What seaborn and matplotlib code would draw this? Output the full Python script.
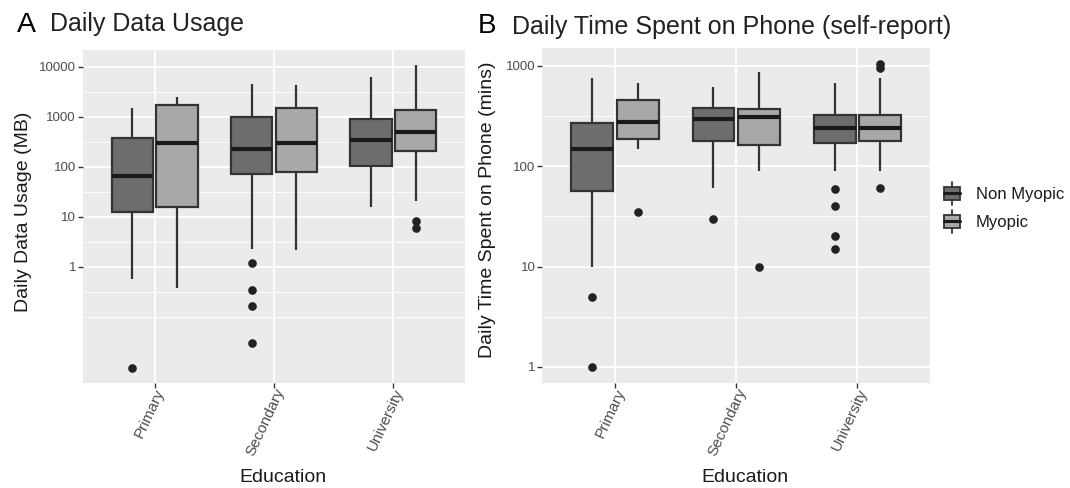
import numpy as np
import pandas as pd
import matplotlib
matplotlib.use("Agg")
import matplotlib.pyplot as plt
import seaborn as sns
from matplotlib.patches import Patch, Rectangle
from matplotlib.lines import Line2D
from matplotlib.legend_handler import HandlerBase

# ---------------- data ----------------
education = ["Primary", "Secondary", "University"]
groups = ["Non Myopic", "Myopic"]
colors = {"Non Myopic": "#6d6d6d", "Myopic": "#a8a8aa"}

# order of boxes: Primary NM, Primary M, Secondary NM, Secondary M, University NM, University M
data_q1 = [12.4, 15.8, 72, 76, 103, 205]
data_med = [66, 295, 225, 295, 340, 490]
data_q3 = [370, 1700, 1000, 1470, 895, 1360]
data_lo = [0.56, 0.37, 2.25, 2.15, 15.8, 20.6]
data_hi = [1470, 2500, 4470, 4300, 6100, 10800]
data_fliers = [[0.0095], [], [1.15, 0.34, 0.16, 0.029], [], [], [8.3, 5.9]]

phone_q1 = [56.7, 186, 179, 161, 172, 178]
phone_med = [149, 273, 295, 307, 238, 238]
phone_q3 = [267, 454, 383, 371, 324, 324]
phone_lo = [10, 150, 60.7, 89, 90, 89]
phone_hi = [764, 681, 612, 878, 671, 764]
phone_fliers = [[5.0, 1.0], [34.7], [29.7], [9.9], [59.8, 39.8, 20, 14.9], [60, 955, 1047]]

data_ticks = [1, 10, 100, 1000, 10000]
phone_ticks = [1, 10, 100, 1000]


def sample_from_summary(q1, med, q3, lo, hi, fliers, k=5):
    """Observations (log10) whose type-7 quartiles / 1.5 IQR whiskers reproduce the summary."""
    low = sorted(f for f in fliers if f < q1)
    high = sorted(f for f in fliers if f > q3)
    n = 4 * k + 1
    vals = list(low) + [lo]
    vals += [q1] * (k + 1 - len(vals))
    vals += [med] * k
    vals += [q3] * k
    rest = n - len(vals)
    vals += [q3] * (rest - 1 - len(high))
    vals += [hi] + list(high)
    return np.log10(vals)


def build_frame(q1, med, q3, lo, hi, fl):
    rows = []
    i = 0
    for e in education:
        for g in groups:
            for v in sample_from_summary(q1[i], med[i], q3[i], lo[i], hi[i], fl[i]):
                rows.append((e, g, v))
            i += 1
    return pd.DataFrame(rows, columns=["Education", "Group", "logv"])


dfA = build_frame(data_q1, data_med, data_q3, data_lo, data_hi, data_fliers)
dfB = build_frame(phone_q1, phone_med, phone_q3, phone_lo, phone_hi, phone_fliers)

# ---------------- style ----------------
sns.set_theme(style="darkgrid", rc={"axes.facecolor": "#EBEBEB", "grid.color": "white"})
plt.rcParams["font.family"] = ["Liberation Sans", "DejaVu Sans"]

W, H = 1070, 488
fig = plt.figure(figsize=(W / 100, H / 100), dpi=100)
axA = fig.add_axes([83 / W, 105 / H, 382 / W, 333 / H])
axB = fig.add_axes([542.4 / W, 105 / H, 387.6 / W, 334.7 / H])

box_kw = dict(x="Education", y="logv", hue="Group", order=education, hue_order=groups,
              palette=colors, width=0.75, gap=0.08, linewidth=1.6, linecolor="#333333",
              showcaps=False, saturation=1, legend=False,
              medianprops=dict(color="#1a1a1a", linewidth=3),
              flierprops=dict(marker="o", markersize=5.2, markerfacecolor="#222222",
                              markeredgecolor="#222222"))

sns.boxplot(data=dfA, ax=axA, **box_kw)
sns.boxplot(data=dfB, ax=axB, **box_kw)


def style_axis(ax, ticks, ylim, minor):
    ax.set_xlim(-0.6, 2.6)
    ax.set_ylim(*ylim)
    ax.set_facecolor("#EBEBEB")
    ax.set_yticks(np.log10(ticks))
    ax.set_yticklabels([str(t) for t in ticks])
    ax.set_yticks(minor, minor=True)
    ax.set_xticks(range(len(education)))
    ax.set_xticklabels(education, rotation=65, ha="right", va="top", rotation_mode="anchor")
    ax.grid(which="major", axis="both", color="white", linewidth=1.3)
    ax.grid(which="minor", axis="y", color="white", linewidth=0.6)
    ax.grid(which="minor", axis="x", visible=False)
    ax.set_axisbelow(True)
    for s in ax.spines.values():
        s.set_visible(False)
    ax.tick_params(axis="both", which="major", length=3.5, width=1, color="#333333",
                   labelcolor="#4d4d4d", bottom=True, left=True, pad=1.5)
    ax.tick_params(axis="x", which="major", pad=-1)
    ax.tick_params(axis="y", which="major", labelsize=9.5)
    ax.tick_params(axis="x", which="major", labelsize=11)
    ax.tick_params(which="minor", length=0)
    ax.set_xlabel("")
    ax.set_ylabel("")


style_axis(axA, data_ticks, (-2.33, 4.33), [-1, -0.5, 0.5, 1.5, 2.5, 3.5])
style_axis(axB, phone_ticks, (-0.16, 3.175), [0.5, 1.5, 2.5])

# ---------------- titles & labels ----------------
fig.text(17 / W, 1 - 32.5 / H, "A", fontsize=20.5, color="black", va="baseline", ha="left")
fig.text(50 / W, 1 - 30.5 / H, "Daily Data Usage", fontsize=18, color="#222222",
         va="baseline", ha="left")
fig.text(478 / W, 1 - 33 / H, "B", fontsize=20, color="black", va="baseline", ha="left")
fig.text(512 / W, 1 - 34 / H, "Daily Time Spent on Phone (self-report)", fontsize=18,
         color="#222222", va="baseline", ha="left")

fig.text(23.5 / W, 1 - 212 / H, "Daily Data Usage (MB)", rotation=90, fontsize=14,
         color="#1a1a1a", ha="center", va="center")
fig.text(487 / W, 1 - 210 / H, "Daily Time Spent on Phone (mins)", rotation=90, fontsize=14,
         color="#1a1a1a", ha="center", va="center")
fig.text(283 / W, 1 - 477 / H, "Education", fontsize=14, color="#1a1a1a",
         ha="center", va="center")
fig.text(745 / W, 1 - 477 / H, "Education", fontsize=14, color="#1a1a1a",
         ha="center", va="center")


# ---------------- legend with box-shaped keys ----------------
class BoxKeyHandler(HandlerBase):
    def create_artists(self, legend, orig_handle, xdescent, ydescent, width, height,
                       fontsize, trans):
        x0, y0 = -xdescent, -ydescent
        cx = x0 + width / 2
        whisk = Line2D([cx, cx], [y0 - 0.35 * height, y0 + 1.35 * height],
                       color="#333333", lw=1.3, transform=trans)
        rect = Rectangle((x0, y0), width, height, facecolor=orig_handle.get_facecolor(),
                         edgecolor="#333333", lw=1.3, transform=trans)
        med = Line2D([x0, x0 + width], [y0 + height / 2] * 2, color="#1a1a1a", lw=2.2,
                     transform=trans)
        return [whisk, rect, med]


handles = [Patch(facecolor=colors[g], edgecolor="#333333") for g in groups]
fig.legend(handles, groups, loc="center left", bbox_to_anchor=(0.8685, 0.573),
           frameon=False, fontsize=12, handlelength=0.95, handleheight=0.85,
           handletextpad=0.95, labelspacing=0.75, labelcolor="#1a1a1a",
           handler_map={Patch: BoxKeyHandler()})

fig.savefig("out.png", dpi=100)
